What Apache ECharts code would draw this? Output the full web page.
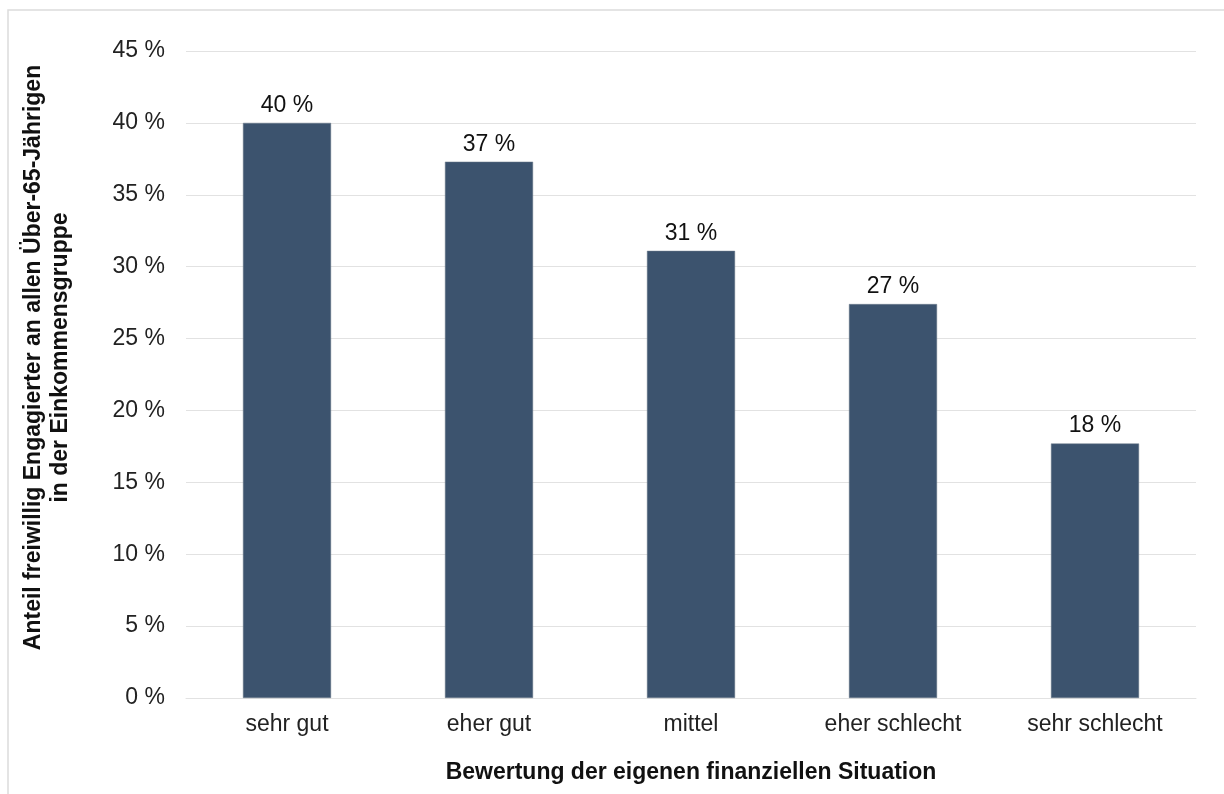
<!DOCTYPE html>
<html>
<head>
<meta charset="utf-8">
<script src="https://cdn.jsdelivr.net/npm/echarts@6/dist/echarts.min.js"></script>
<style>
  html, body { margin: 0; padding: 0; background: #fff; }
  #chart { width: 1224px; height: 794px; }
</style>
</head>
<body>
<div id="chart"></div>
<script>
const categories = ['sehr gut', 'eher gut', 'mittel', 'eher schlecht', 'sehr schlecht']
const values = [40.0, 37.3, 31.1, 27.4, 17.7]
const valueLabels = ['40 %', '37 %', '31 %', '27 %', '18 %']

const chart = echarts.init(document.getElementById('chart'))
const font = '"Liberation Sans", Arial, sans-serif'

chart.setOption({
  backgroundColor: '#fff',
  animation: false,
  graphic: [{
    type: 'rect',
    shape: { x: 8, y: 10, width: 1240, height: 800 },
    style: { fill: 'none', stroke: '#dcdcdc', lineWidth: 1.5 },
    silent: true
  }],
  grid: { left: 186, right: 28, top: 51, bottom: 96 },
  xAxis: {
    type: 'category',
    data: categories,
    axisLine: { show: true, lineStyle: { color: '#e2e2e2', width: 1 } },
    axisTick: { show: false },
    axisLabel: { color: '#222', fontSize: 23, fontFamily: font, margin: 15 },
    name: 'Bewertung der eigenen finanziellen Situation',
    nameLocation: 'middle',
    nameGap: 63,
    nameTextStyle: { color: '#111', fontSize: 23, fontWeight: 'bold', fontFamily: font }
  },
  yAxis: {
    type: 'value',
    min: 0,
    max: 45,
    interval: 5,
    axisLine: { show: false },
    axisTick: { show: false },
    splitLine: { lineStyle: { color: '#e2e2e2', width: 1 } },
    axisLabel: {
      color: '#222', fontSize: 23, fontFamily: font, margin: 21,
      formatter: v => v + ' %'
    },
    name: 'Anteil freiwillig Engagierter an allen Über-65-Jährigen\nin der Einkommensgruppe',
    nameLocation: 'middle',
    nameGap: 112,
    nameTextStyle: {
      color: '#111', fontSize: 23, fontWeight: 'bold', fontFamily: font,
      lineHeight: 27, padding: [0, 0, 0, 34]
    }
  },
  series: [{
    type: 'bar',
    data: values,
    barWidth: '43.6%',
    itemStyle: { color: '#3c536e', borderColor: '#6c7a8a', borderWidth: 0.5 },
    label: {
      show: true,
      position: 'top',
      distance: 6,
      color: '#111',
      fontSize: 23,
      fontFamily: font,
      formatter: p => valueLabels[p.dataIndex]
    }
  }]
})
</script>
</body>
</html>
